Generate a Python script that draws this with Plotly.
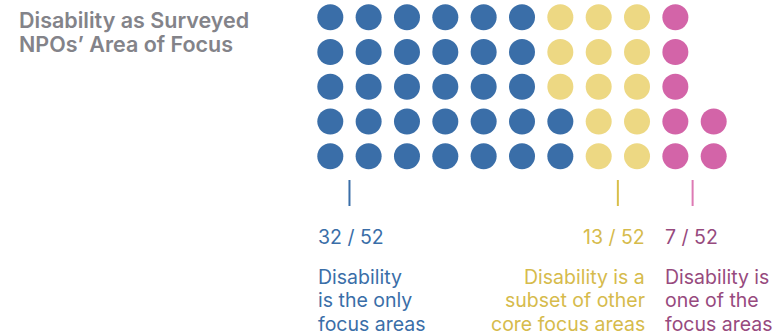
import plotly.graph_objects as go

# Survey results: how disability fits into each NPO's focus
groups = ["only", "subset", "one_of"]
counts = [32, 13, 7]
dot_colors = ["#3a6ea8", "#edd883", "#d364a8"]
text_colors = ["#3a6ea8", "#d6bb4c", "#974a7e"]
tick_colors = ["#3a6ea8", "#d9bf4a", "#dd7ab4"]
descriptions = [
    ["Disability", "is the only", "focus areas"],
    ["Disability is a", "subset of other", "core focus areas"],
    ["Disability is", "one of the", "focus areas"],
]
title_lines = ["Disability as Surveyed", "NPOs\u2019 Area of Focus"]

W, H = 776, 336
N_ROWS = 5
X0, DX = 330.3, 38.34   # first column centre, column pitch
Y0, DY = 17.3, 34.75    # top row centre, row pitch
DOT = 26

# column offsets (in grid units) where each group's marker line sits
tick_cols = [0.5, 7.5, 9.45]
# text anchoring per group: (x, xanchor)
label_anchor = [(316, "left"), (647, "right"), (662.5, "left")]

FONT = "Inter"
total = sum(counts)

fig = go.Figure()

# unit dots, filled column by column from the bottom row up
idx = 0
for g, n in enumerate(counts):
    xs, ys = [], []
    for _ in range(n):
        col = idx // N_ROWS
        row = N_ROWS - 1 - (idx % N_ROWS)
        xs.append(X0 + col * DX)
        ys.append(Y0 + row * DY)
        idx += 1
    fig.add_trace(go.Scatter(
        x=xs, y=ys, mode="markers", name=groups[g],
        marker=dict(size=DOT, color=dot_colors[g], line=dict(width=0)),
        hoverinfo="skip", showlegend=False,
    ))

shapes = []
annotations = []
for g in range(len(counts)):
    tx = X0 + tick_cols[g] * DX
    shapes.append(dict(type="line", xref="x", yref="y", x0=tx, x1=tx,
                       y0=180, y1=206, line=dict(color=tick_colors[g], width=2)))
    ax, anch = label_anchor[g]
    annotations.append(dict(
        x=ax, y=236.5, xref="x", yref="y", xanchor=anch, yanchor="middle",
        text=f"{counts[g]} / {total}", showarrow=False,
        font=dict(family=FONT, size=19.5, color=text_colors[g]),
    ))
    for k, line in enumerate(descriptions[g]):
        annotations.append(dict(
            x=ax, y=276.5 + k * 23.7, xref="x", yref="y", xanchor=anch,
            yanchor="middle", text=line, showarrow=False,
            font=dict(family=FONT, size=19.5, color=text_colors[g]),
        ))

for k, line in enumerate(title_lines):
    annotations.append(dict(
        x=17, y=20.3 + k * 23.6, xref="x", yref="y", xanchor="left",
        yanchor="middle", text=line, showarrow=False,
        font=dict(family=FONT, size=21.5, color="#838389", weight=600),
    ))

fig.update_layout(
    width=W, height=H, margin=dict(l=0, r=0, t=0, b=0),
    paper_bgcolor="white", plot_bgcolor="white",
    xaxis=dict(range=[0, W], visible=False, fixedrange=True),
    yaxis=dict(range=[H, 0], visible=False, fixedrange=True),
    shapes=shapes, annotations=annotations,
)

fig.write_html("out.html")
